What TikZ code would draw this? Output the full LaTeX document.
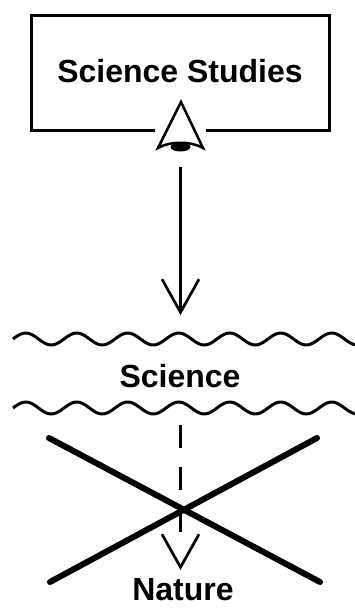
\documentclass[tikz,border=0pt]{standalone}
\usepackage{fontspec}
\setmainfont{Liberation Sans}
\usetikzlibrary{arrows.meta}

\begin{document}
\begin{tikzpicture}[
  x=1pt, y=-1pt,
  >={Straight Barb[length=33pt, width=37pt]},
  every node/.style={font=\fontsize{32}{36}\selectfont\bfseries, inner sep=0pt},
  box/.style={draw, line width=3pt, minimum width=298pt, minimum height=115pt},
  wave/.style={line width=3pt, line join=round},
  cross/.style={line width=6pt, line cap=round},
  link/.style={line width=2.7pt, ->},
]

\useasboundingbox (0,0) rectangle (355,609);
\fill[white] (0,0) rectangle (355,609);

% Observer box
\node[box, text depth=5pt] (studies) at (180,73.5) {Science Studies};

% Eye on the lower edge of the box
\fill[white] (155,127) rectangle (206,135);
\draw[line width=2.5pt, fill=white, line join=miter]
  (158,148) -- (181,102) -- (203,148) .. controls (191,141) and (170,141) .. cycle;
\fill (180.5,147) ellipse (10 and 4.5);

% Upper and lower wavy edges of science
\draw[wave] plot[domain=13:355, samples=150, smooth] (\x, {339-6*sin((\x-13)*7.0588)});
\draw[wave] plot[domain=13:355, samples=150, smooth] (\x, {408-6*sin((\x-13)*7.0588)});

% Labels
\node[anchor=base] (science) at (180,387) {Science};
\node[anchor=base] (nature) at (183,600) {Nature};

% Connectors
\coordinate (gaze) at (180.5,167);
\coordinate (sciencetop) at (180.5,315);
\coordinate (sciencebot) at (180.5,425);
\coordinate (naturetop) at (180.5,570);

\draw[link] (gaze) -- (sciencetop);
\draw[link, dash pattern=on 23pt off 19pt on 23pt off 19pt on 23pt off 60pt]
  (sciencebot) -- (naturetop);

% Crossed out
\draw[cross] (49,438) -- (320,582);
\draw[cross] (317,438) -- (50,582);

\end{tikzpicture}
\end{document}
